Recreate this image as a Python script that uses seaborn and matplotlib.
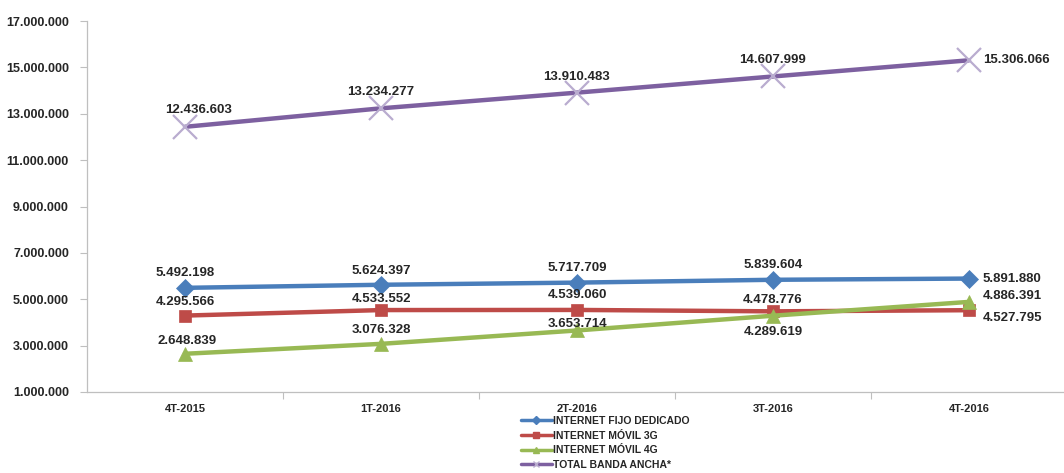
import numpy as np
import pandas as pd
import matplotlib
matplotlib.use("Agg")
import matplotlib.pyplot as plt
import seaborn as sns
from matplotlib.lines import Line2D
from matplotlib.ticker import FuncFormatter

# ---------------- data ----------------
periods = ["4T-2015", "1T-2016", "2T-2016", "3T-2016", "4T-2016"]
fijo_dedicado = [5492198, 5624397, 5717709, 5839604, 5891880]
movil_3g = [4295566, 4533552, 4539060, 4478776, 4527795]
movil_4g = [2648839, 3076328, 3653714, 4289619, 4886391]
total_banda = [12436603, 13234277, 13910483, 14607999, 15306066]
series_names = ["INTERNET FIJO DEDICADO", "INTERNET MÓVIL 3G",
                "INTERNET MÓVIL 4G", "TOTAL BANDA ANCHA*"]
y_ticks = [1000000, 3000000, 5000000, 7000000, 9000000, 11000000,
           13000000, 15000000, 17000000]

# ---------------- style ----------------
sns.set_theme(style="white")
plt.rcParams['font.family'] = ['Liberation Sans', 'DejaVu Sans']

colors = {"INTERNET FIJO DEDICADO": "#4A7EBB",
          "INTERNET MÓVIL 3G": "#BE4B48",
          "INTERNET MÓVIL 4G": "#98B954",
          "TOTAL BANDA ANCHA*": "#7D60A0"}
mcolors = {"INTERNET FIJO DEDICADO": "#4A7EBB",
           "INTERNET MÓVIL 3G": "#BE4B48",
           "INTERNET MÓVIL 4G": "#98B954",
           "TOTAL BANDA ANCHA*": "#B9ACCF"}
markers = {"INTERNET FIJO DEDICADO": "D",
           "INTERNET MÓVIL 3G": "s",
           "INTERNET MÓVIL 4G": "^",
           "TOTAL BANDA ANCHA*": "x"}
msizes = {"INTERNET FIJO DEDICADO": 9,
          "INTERNET MÓVIL 3G": 9,
          "INTERNET MÓVIL 4G": 10,
          "TOTAL BANDA ANCHA*": 17}

all_vals = [fijo_dedicado, movil_3g, movil_4g, total_banda]
df = pd.DataFrame({
    "periodo": periods * 4,
    "valor": sum(all_vals, []),
    "serie": sum([[n] * len(periods) for n in series_names], []),
})

fig = plt.figure(figsize=(10.64, 4.73), dpi=100)
ax = fig.add_axes([87 / 1064, 1 - 392 / 473, (1064 - 87) / 1064, (392 - 21) / 473])

for name in series_names:
    sub = df[df["serie"] == name]
    sns.lineplot(data=sub, x="periodo", y="valor", ax=ax, color=colors[name],
                 linewidth=3.2, marker=markers[name], markersize=msizes[name],
                 markerfacecolor=mcolors[name], markeredgecolor=mcolors[name],
                 markeredgewidth=1.6 if name == "TOTAL BANDA ANCHA*" else 0.5,
                 legend=False, sort=False)

ax.set_xlim(-0.5, -0.5 + 977 / 196)
ax.set_ylim(1000000, 17000000)
ax.set_yticks(y_ticks)
ax.yaxis.set_major_formatter(FuncFormatter(lambda v, p: f"{int(v):,}".replace(",", ".")))
ax.set_xticks(range(len(periods)))
ax.set_xticklabels(periods)
ax.set_xticks(np.arange(0.5, len(periods) - 0.5, 1), minor=True)
ax.tick_params(axis="x", which="major", length=0, pad=9, labelsize=8, labelcolor="#262626")
ax.tick_params(axis="x", which="minor", length=5, width=0.8, color="#BFBFBF", bottom=True)
ax.tick_params(axis="y", which="major", length=5, width=0.8, color="#BFBFBF", left=True,
               labelsize=9, labelcolor="#262626", pad=8)
for lbl in ax.get_xticklabels() + ax.get_yticklabels():
    lbl.set_fontweight("bold")
ax.set_xlabel("")
ax.set_ylabel("")
for s in ["top", "right"]:
    ax.spines[s].set_visible(False)
for s in ["left", "bottom"]:
    ax.spines[s].set_color("#BFBFBF")
    ax.spines[s].set_linewidth(0.9)
ax.grid(False)

# ---------------- data labels ----------------
offs = {
    "TOTAL BANDA ANCHA*": [(14, 17, "center"), (0, 16, "center"), (0, 16, "center"),
                           (0, 16, "center"), (14, 0, "left")],
    "INTERNET FIJO DEDICADO": [(0, 15, "center"), (0, 14, "center"), (0, 15, "center"),
                               (0, 15, "center"), (14, 0, "left")],
    "INTERNET MÓVIL 3G": [(0, 14, "center"), (0, 11, "center"), (0, 15, "center"),
                          (0, 11, "center"), (14, -8, "left")],
    "INTERNET MÓVIL 4G": [(2, 13, "center"), (0, 14, "center"), (0, 6, "center"),
                          (0, -16, "center"), (14, 6, "left")],
}
for name, vals in zip(series_names, all_vals):
    for i, v in enumerate(vals):
        dx, dy, ha = offs[name][i]
        ax.annotate(f"{v:,}".replace(",", "."), (i, v), xytext=(dx, dy),
                    textcoords="offset pixels", ha=ha, va="center",
                    fontsize=9.5, fontweight="bold", color="#262626",
                    annotation_clip=False)

# ---------------- legend ----------------
handles = [Line2D([0], [0], color=colors[n], lw=2.5, marker=markers[n],
                  markersize=4, markerfacecolor=mcolors[n], markeredgecolor=mcolors[n])
           for n in series_names]
leg = fig.legend(handles, series_names, loc="center", bbox_to_anchor=(605 / 1064, 1 - 443 / 473),
                 frameon=False, ncol=1, handlelength=3.0, handletextpad=0.1,
                 labelspacing=0.45, borderpad=0, prop={"size": 7.5, "weight": "bold"})
for t in leg.get_texts():
    t.set_color("#262626")

fig.savefig("out.png", dpi=100)
